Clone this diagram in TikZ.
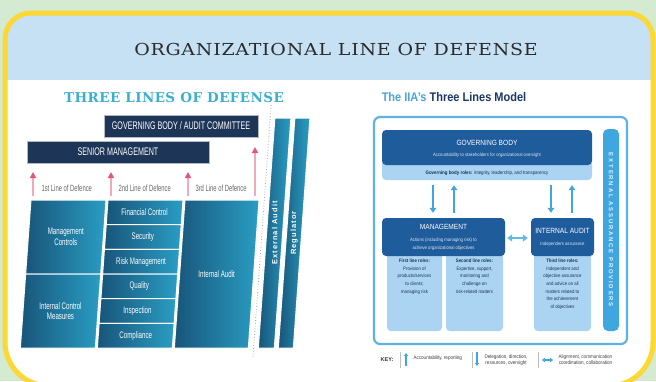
\documentclass[tikz,border=0pt]{standalone}
\usepackage{fontspec}
\setmainfont{Liberation Sans}
\newfontfamily\slabfont[FakeStretch=1.15]{DejaVu Serif}
\newfontfamily\headfont{DejaVu Serif}
\newfontfamily\narrowfont[FakeStretch=0.65]{Liberation Sans}
\newfontfamily\modelfont[FakeStretch=0.88]{Liberation Sans}
\usetikzlibrary{arrows.meta}

\definecolor{pagegreen}{HTML}{D4EAD1}
\definecolor{frameyellow}{HTML}{FCD835}
\definecolor{bandblue}{HTML}{C6E0F4}
\definecolor{titlegray}{HTML}{2B2B2B}
\definecolor{headteal}{HTML}{3BAFCF}
\definecolor{navy}{HTML}{1D3658}
\definecolor{tealdark}{HTML}{18557A}
\definecolor{teallight}{HTML}{2A9DC3}
\definecolor{linepink}{HTML}{E4557B}
\definecolor{pinkshaft}{HTML}{F2A9B8}
\definecolor{iiadark}{HTML}{1F5C9C}
\definecolor{iialight}{HTML}{AAD4F1}
\definecolor{iiamid}{HTML}{3FA6DF}
\definecolor{iiatitle}{HTML}{1B3868}
\definecolor{iiasky}{HTML}{4AA4DC}
\definecolor{roletext}{HTML}{1C3557}

\tikzset{
  navybox/.style={fill=navy, draw=navy!35, line width=0.8pt, text=white, inner sep=0pt,
    font=\narrowfont\fontsize{11}{12}\selectfont},
  cell/.style={left color=tealdark, right color=teallight, draw=white, line width=1pt},
  celltext/.style={text=white, align=center, font=\narrowfont\fontsize{9.5}{10.5}\selectfont},
  linelabel/.style={anchor=west, text=black!60, font=\narrowfont\fontsize{9}{10}\selectfont},
  bartext/.style={rotate=90, text=white,
    font=\bfseries\fontsize{7.5}{8}\selectfont\addfontfeatures{LetterSpace=14}},
  pinkarrow/.style={draw=pinkshaft, line width=1.6pt,
    -{Triangle[length=6pt,width=6pt,color=linepink]}},
  darkbox/.style={fill=iiadark, rounded corners=4pt, inner sep=0pt},
  lightbox/.style={fill=iialight, rounded corners=4pt},
  boxtitle/.style={text=white, inner sep=0pt, font=\modelfont\fontsize{7.5}{8}\selectfont},
  boxsub/.style={text=white!85!iiadark, align=center, inner sep=0pt,
    font=\modelfont\fontsize{4.8}{7.6}\selectfont},
  roletext/.style={anchor=north, text=roletext, align=center, inner sep=0pt,
    font=\modelfont\fontsize{4.9}{7.6}\selectfont},
  iiaarrow/.style={draw=iiamid, line width=1.8pt, -{Triangle[length=5pt,width=6.5pt]}},
  keytext/.style={anchor=west, text=black!75, font=\modelfont\fontsize{5.2}{6.2}\selectfont}
}

\newcommand\framepath{(5,200) [rounded corners=26pt] -- (5,13) -- (653,13) -- (653,200)
  [rounded corners=44pt] -- (653,386) -- (5,386) -- cycle}

\begin{document}
\begin{tikzpicture}[x=1pt, y=-1pt]
\useasboundingbox (0,0) rectangle (656,381);
\fill[pagegreen] (0,0) rectangle (656,381);

% card with the heading band
\fill[white] \framepath;
\begin{scope}
  \clip \framepath;
  \fill[bandblue] (0,0) rectangle (656,80);
\end{scope}
\draw[frameyellow, line width=5pt] \framepath;

\node[text=titlegray, font=\slabfont\fontsize{16.5}{18}\selectfont\addfontfeatures{LetterSpace=4.5}]
  (title) at (336,49) {ORGANIZATIONAL LINE OF DEFENSE};

% ---- three lines of defense
\node[text=headteal, font=\headfont\bfseries\fontsize{13.5}{15}\selectfont\addfontfeatures{LetterSpace=3}]
  (leftheading) at (174,98) {THREE LINES OF DEFENSE};

\node[navybox, minimum width=154pt, minimum height=22pt] (govcommittee) at (181,126)
  {GOVERNING BODY / AUDIT COMMITTEE};
\node[navybox, minimum width=182pt, minimum height=22pt] (seniormgmt) at (118,152)
  {SENIOR MANAGEMENT};

\node[linelabel] (line1) at (38,188) {1st Line of Defence};
\node[linelabel] (line2) at (115,188) {2nd Line of Defence};
\node[linelabel] (line3) at (192,188) {3rd Line of Defence};

\coordinate (p1) at (33,196);  \coordinate (q1) at (33,172);
\coordinate (p2) at (111,196); \coordinate (q2) at (111,172);
\coordinate (p3) at (188,196); \coordinate (q3) at (188,172);
\coordinate (p4) at (255,196); \coordinate (q4) at (255,147);
\foreach \i in {1,...,4}
  \draw[pinkarrow] (p\i) -- (q\i);

\begin{scope}[shift={(14.4,0)}, xslant=0.072]
  % first line
  \path[cell] (31,200) rectangle (106,274);
  \path[cell] (31,274) rectangle (106,348);
  \node[celltext] (mgmtcontrols) at (68.5,237) {Management\\Controls};
  \node[celltext] (controlmeasures) at (68.5,311) {Internal Control\\Measures};
  % second line
  \foreach \lbl [count=\i from 0] in {Financial Control, Security, Risk Management,
      Quality, Inspection, Compliance} {
    \pgfmathsetmacro\ytop{200+24.67*\i}
    \path[cell] (108,\ytop) rectangle (183,\ytop+24.67);
    \node[celltext] (row\i) at (145.5,\ytop+12.33) {\lbl};
  }
  % third line
  \path[cell] (185,200) rectangle (259,348);
  \node[celltext] (internalaudit) at (222,274) {Internal Audit};
  % outside the organisation
  \draw[black!35, line width=0.8pt, dotted] (264.3,105) -- (264.3,358);
  \path[cell] (269,118) rectangle (285,348);
  \path[cell] (289,118) rectangle (304,348);
  \node[bartext] (extaudit) at (277,233) {External Audit};
  \node[bartext] (regulator) at (296.5,233) {Regulator};
\end{scope}

% ---- three lines model
\node[font=\modelfont\bfseries\fontsize{12.5}{14}\selectfont] (rightheading) at (454,97)
  {\textcolor{iiasky}{The IIA’s} \textcolor{iiatitle}{Three Lines Model}};

\draw[iiamid!85, line width=2.2pt, rounded corners=6pt] (374,117) rectangle (627,344);

\node[lightbox, minimum width=210pt, minimum height=20pt] (govroles) at (487,170) {};
\node[darkbox, minimum width=210pt, minimum height=35pt] (govbody) at (487,147.5) {};
\node[boxtitle] (govtitle) at (487,143) {GOVERNING BODY};
\node[boxsub] (govsub) at (487,155) {Accountability to stakeholders for organizational oversight};
\node[text=roletext, font=\modelfont\fontsize{5}{6}\selectfont] (govrolestext) at (487,173)
  {\textbf{Governing body roles:} integrity, leadership, and transparency};

\node[lightbox, minimum width=55pt, minimum height=80pt, anchor=north] (firstline) at (414.5,251) {};
\node[lightbox, minimum width=57pt, minimum height=80pt, anchor=north] (secondline) at (474.5,251) {};
\node[lightbox, minimum width=57pt, minimum height=80pt, anchor=north] (thirdline) at (562.5,251) {};

\node[darkbox, minimum width=123pt, minimum height=38pt] (management) at (443.5,237) {};
\node[boxtitle] (mgmttitle) at (443.5,227) {MANAGEMENT};
\node[boxsub] (mgmtsub) at (443.5,244)
  {Actions (including managing risk) to\\achieve organizational objectives};
\node[darkbox, minimum width=63pt, minimum height=38pt] (iaudit) at (562.5,237) {};
\node[boxtitle] (iatitle) at (562.5,231) {INTERNAL AUDIT};
\node[boxsub] (iasub) at (562.5,244) {Independent assurance};

\node[roletext] (firsttext) at (firstline.north) [yshift=-8pt]
  {\textbf{First line roles:}\\Provision of\\products/services\\to clients;\\managing risk};
\node[roletext] (secondtext) at (secondline.north) [yshift=-8pt]
  {\textbf{Second line roles:}\\Expertise, support,\\monitoring and\\challenge on\\risk-related matters};
\node[roletext] (thirdtext) at (thirdline.north) [yshift=-8pt]
  {\textbf{Third line roles:}\\Independent and\\objective assurance\\and advice on all\\matters related to\\the achievement\\of objectives};

\coordinate (mgdown) at (433,0);  \coordinate (mgup) at (454,0);
\coordinate (iadown) at (551,0);  \coordinate (iaup) at (572,0);
\draw[iiaarrow, shorten <=5pt, shorten >=5pt] (govroles.south -| mgdown) -- (management.north -| mgdown);
\draw[iiaarrow, shorten <=5pt, shorten >=5pt] (management.north -| mgup) -- (govroles.south -| mgup);
\draw[iiaarrow, shorten <=5pt, shorten >=5pt] (govroles.south -| iadown) -- (iaudit.north -| iadown);
\draw[iiaarrow, shorten <=5pt, shorten >=5pt] (iaudit.north -| iaup) -- (govroles.south -| iaup);
\draw[iiamid!80, line width=2.2pt, {Triangle[length=5pt,width=7pt]}-{Triangle[length=5pt,width=7pt]},
  shorten <=2pt, shorten >=3pt] (management.east |- 0,238) -- (iaudit.west |- 0,238);

\node[fill=iiamid, rounded corners=5pt, rotate=-90, minimum width=202pt, minimum height=16pt,
  text=white!85!iiamid, font=\bfseries\fontsize{6}{6.5}\selectfont\addfontfeatures{LetterSpace=30}]
  (assurance) at (611,230) {EXTERNAL ASSURANCE PROVIDERS};

% key
\node[font=\bfseries\fontsize{5.5}{6}\selectfont, text=black!80] (key) at (387,360) {KEY:};
\draw[black!25, line width=0.5pt] (400,352) -- (400,368) (472,352) -- (472,368) (538,352) -- (538,368);
\coordinate (k1) at (406,366); \coordinate (k1t) at (406,353);
\coordinate (k2) at (477,352); \coordinate (k2t) at (477,366);
\coordinate (k3) at (542,360); \coordinate (k3t) at (553,360);
\draw[iiamid, line width=1.1pt, -{Triangle[length=3pt,width=4pt]}] (k1) -- (k1t);
\draw[iiamid, line width=1.1pt, -{Triangle[length=3pt,width=4pt]}] (k2) -- (k2t);
\draw[iiamid, line width=1.3pt, {Triangle[length=3pt,width=4.5pt]}-{Triangle[length=3pt,width=4.5pt]}] (k3) -- (k3t);
\node[keytext] (keyup) at (410,358) {Accountability, reporting};
\node[keytext, align=center] (keydown) at (481,360) {Delegation, direction,\\resources, oversight};
\node[keytext, align=right] (keyboth) at (555,360) {Alignment, communication\\coordination, collaboration};
\end{tikzpicture}
\end{document}
